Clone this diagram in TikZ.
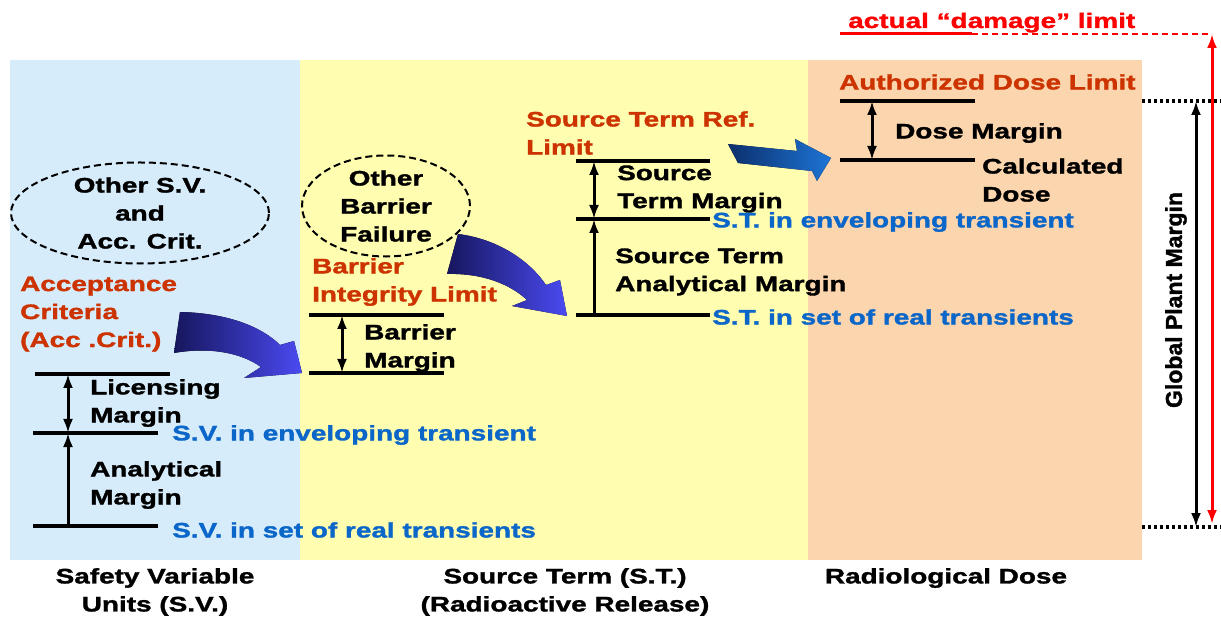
\documentclass[tikz,border=0pt]{standalone}
\usepackage{fontspec}
\setmainfont{Liberation Sans}
\newfontfamily\wfont{Liberation Sans}[FakeStretch=1.33,FakeBold=1.5]
\newfontfamily\gfont{Liberation Sans}[FakeBold=1.5]
\usetikzlibrary{arrows.meta,shapes.geometric}
\definecolor{svpanel}{HTML}{D6ECFA}
\definecolor{stpanel}{HTML}{FFFDB0}
\definecolor{dpanel}{HTML}{FBD5AE}
\definecolor{critred}{HTML}{CC3300}
\definecolor{stblue}{HTML}{0A66C8}
\definecolor{navyA}{HTML}{16165E}
\definecolor{blueA}{HTML}{4A4AF2}
\definecolor{navyB}{HTML}{0B2F6B}
\definecolor{blueB}{HTML}{1E74D6}
\definecolor{limred}{HTML}{FF0000}
\begin{document}
\begin{tikzpicture}[x=1pt,y=-1pt,
  txt/.style={font=\wfont\bfseries\fontsize{21}{28}\selectfont, inner sep=0pt, align=left},
  lbl/.style={txt, anchor=west},
  redlbl/.style={lbl, text=critred},
  bluelbl/.style={lbl, text=stblue},
  botlbl/.style={txt, align=center, anchor=north},
  level/.style={line width=4pt},
  twoway/.style={line width=3pt, {Latex[length=14pt,width=10pt]}-{Latex[length=14pt,width=10pt]}},
  oneway/.style={line width=3pt, -{Latex[length=14pt,width=10pt]}},
  cloud/.style={txt, align=center, ellipse, draw, line width=2pt, dash pattern=on 7pt off 4pt},
  dots/.style={line width=3.5pt, dash pattern=on 3pt off 3pt}]
\useasboundingbox (0,0) rectangle (1221,617);
% panels
\fill[svpanel] (10,60) rectangle (300,560);
\fill[stpanel] (300,60) rectangle (808,560);
\fill[dpanel] (808,60) rectangle (1142,560);

% ---------- Safety variable panel ----------
\node[cloud, minimum width=258pt, minimum height=86pt] (osv) at (140,213) {Other S.V.\\and\\Acc. Crit.};
\node[redlbl] (acc) at (20,314) {Acceptance\\Criteria\\(Acc .Crit.)};
\coordinate (sa1) at (35,374); \coordinate (sa2) at (170,374);
\coordinate (sb1) at (33,433); \coordinate (sb2) at (158,433);
\coordinate (sc1) at (33,526); \coordinate (sc2) at (158,526);
\draw[level] (sa1) -- (sa2);
\draw[level] (sb1) -- (sb2);
\draw[level] (sc1) -- (sc2);
\coordinate (sam) at (68,374); \coordinate (sbm) at (68,433); \coordinate (scm) at (68,526);
\draw[twoway] (sam) -- (sbm);
\draw[oneway] (scm) -- (sbm);
\node[lbl] (lic) at (90,403) {Licensing\\Margin};
\node[lbl] (ana) at (90,485) {Analytical\\Margin};
\node[bluelbl] (sven) at (172,435) {S.V. in enveloping transient};
\node[bluelbl] (svre) at (172,530) {S.V. in set of real transients};

% ---------- Source term panel ----------
\node[cloud, minimum width=168pt, minimum height=88pt] (obf) at (386,206) {Other\\Barrier\\Failure};
\node[redlbl] (bil) at (312,282) {Barrier\\Integrity Limit};
\coordinate (ba1) at (309,315); \coordinate (ba2) at (444,315);
\coordinate (bb1) at (309,373); \coordinate (bb2) at (444,373);
\draw[level] (ba1) -- (ba2);
\draw[level] (bb1) -- (bb2);
\coordinate (bam) at (342,315); \coordinate (bbm) at (342,373);
\draw[twoway] (bam) -- (bbm);
\node[lbl] (bm) at (364,348) {Barrier\\Margin};

\node[redlbl] (strl) at (526,133) {Source Term Ref.\\Limit};
\coordinate (ta1) at (576,161); \coordinate (ta2) at (710,161);
\coordinate (tb1) at (576,219); \coordinate (tb2) at (710,219);
\coordinate (tc1) at (576,315); \coordinate (tc2) at (710,315);
\draw[level] (ta1) -- (ta2);
\draw[level] (tb1) -- (tb2);
\draw[level] (tc1) -- (tc2);
\coordinate (tam) at (594,161); \coordinate (tbm) at (594,219); \coordinate (tcm) at (594,315);
\draw[twoway] (tam) -- (tbm);
\draw[oneway] (tcm) -- (tbm);
\node[lbl] (stm) at (617,189) {Source\\Term Margin};
\node[bluelbl] (sten) at (712,222) {S.T. in enveloping transient};
\node[lbl] (stam) at (615,272) {Source Term\\Analytical Margin};
\node[bluelbl] (stre) at (712,317) {S.T. in set of real transients};

% ---------- Dose panel ----------
\node[redlbl] (adl) at (839,82) {Authorized Dose Limit};
\coordinate (da1) at (840,101); \coordinate (da2) at (975,101);
\coordinate (db1) at (840,160); \coordinate (db2) at (975,160);
\draw[level] (da1) -- (da2);
\draw[level] (db1) -- (db2);
\coordinate (dam) at (872,101); \coordinate (dbm) at (872,160);
\draw[twoway] (dam) -- (dbm);
\node[lbl] (dm) at (895,133) {Dose Margin};
\node[lbl] (cd) at (982,180) {Calculated\\Dose};

% ---------- 3D arrows ----------
\fill[left color=navyA, right color=blueA]
  (180,312) .. controls (228,313) and (262,327) .. (280,345) -- (294,341) -- (302,373)
  -- (244,378) -- (261,367) .. controls (240,352) and (208,347) .. (174,353) -- cycle;
\fill[left color=navyA, right color=blueA]
  (458,234) .. controls (498,239) and (530,261) .. (546,285) -- (560,280) -- (567,316)
  -- (512,306) -- (527,300) .. controls (510,284) and (482,273) .. (447,274) -- cycle;
\fill[left color=navyB, right color=blueB]
  (728,144) -- (797,151) -- (795,139) -- (831,158) -- (817,181) -- (812,171) -- (738,163) -- cycle;

% ---------- global margin ----------
\coordinate (gt0) at (1142,101); \coordinate (gt1) at (1221,101);
\coordinate (gb0) at (1142,527); \coordinate (gb1) at (1221,527);
\draw[dots] (gt0) -- (gt1);
\draw[dots] (gb0) -- (gb1);
\coordinate (gat) at (1196,101); \coordinate (gab) at (1196,527);
\draw[twoway] (gat) -- (gab);
\node[txt, font=\gfont\bfseries\fontsize{23}{26}\selectfont, rotate=90] (gpm) at (1176,300) {Global Plant Margin};

\node[lbl, text=limred, anchor=base west] (dmg) at (848,28) {actual “damage” limit};
\coordinate (u0) at (840,34); \coordinate (u1) at (972,34); \coordinate (u2) at (1212,34);
\draw[limred, line width=3pt] (u0) -- (u1);
\draw[limred, line width=2pt, dash pattern=on 6pt off 4pt] (u1) -- (u2);
\coordinate (rt) at (1212,34); \coordinate (rb) at (1212,524);
\draw[limred, twoway] (rt) -- (rb);

% ---------- bottom labels ----------
\node[botlbl] (l1) at (155,568) {Safety Variable\\Units (S.V.)};
\node[botlbl] (l2) at (565,568) {Source Term (S.T.)\\(Radioactive Release)};
\node[botlbl] (l3) at (946,568) {Radiological Dose};
\end{tikzpicture}
\end{document}
